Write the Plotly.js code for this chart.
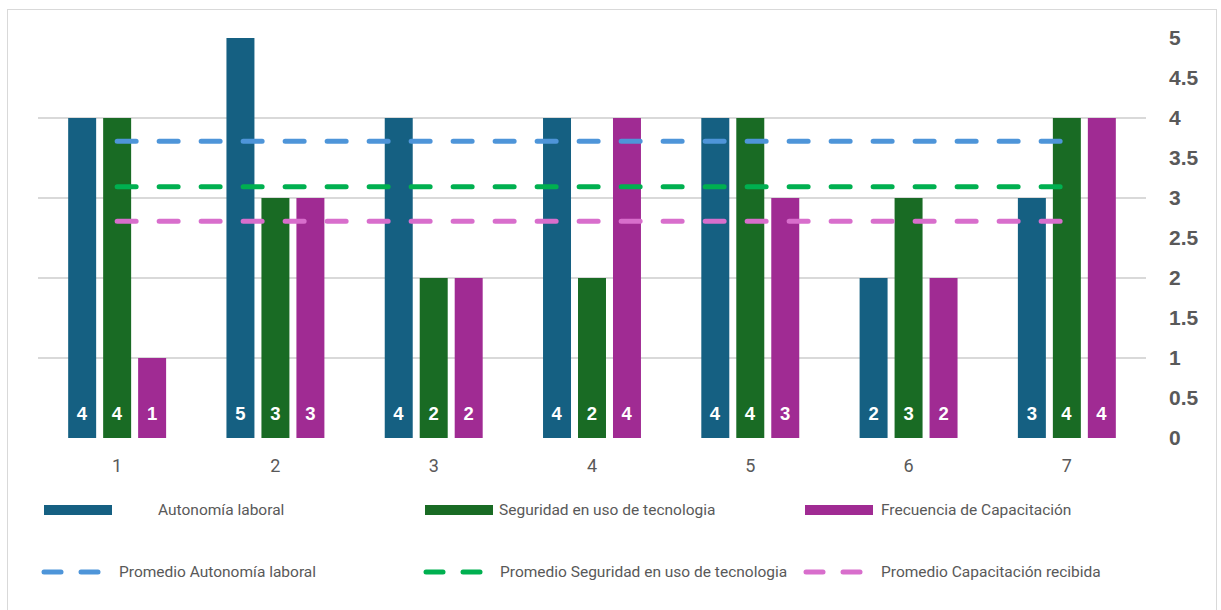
<!DOCTYPE html>
<html>
<head>
<meta charset="utf-8">
<script src="https://cdn.plot.ly/plotly-3.0.1.min.js"></script>
<style>
  html, body { margin: 0; padding: 0; background: #ffffff; }
  #wrap { position: relative; width: 1221px; height: 610px; overflow: hidden; }
  #chart { width: 1221px; height: 610px; }
  #frame { position: absolute; left: 7px; top: 9px; width: 1208px; height: 640px;
           border: 1.5px solid #d9d9d9; pointer-events: none; }
  .scatterlayer path.js-line, .shapelayer path { stroke-linecap: round; }
</style>
</head>
<body>
<div id="wrap">
  <div id="chart"></div>
  <div id="frame"></div>
</div>
<script>
// Categories (respondents 1..7)
const categorias = ['1', '2', '3', '4', '5', '6', '7'];

// Bar series
const autonomiaLaboral = [4, 5, 4, 4, 4, 2, 3];
const seguridadTecnologia = [4, 3, 2, 2, 4, 3, 4];
const frecuenciaCapacitacion = [1, 3, 2, 4, 3, 2, 4];

// Average lines
const promedioAutonomia = [3.71, 3.71, 3.71, 3.71, 3.71, 3.71, 3.71];
const promedioSeguridad = [3.14, 3.14, 3.14, 3.14, 3.14, 3.14, 3.14];
const promedioCapacitacion = [2.71, 2.71, 2.71, 2.71, 2.71, 2.71, 2.71];

// Y tick labels
const yTicks = [0, 0.5, 1, 1.5, 2, 2.5, 3, 3.5, 4, 4.5, 5];
const yTickText = ['0', '0.5', '1', '1.5', '2', '2.5', '3', '3.5', '4', '4.5', '5'];

const colores = {
  autonomia: '#156082',
  seguridad: '#196B24',
  capacitacion: '#A02B93',
  promAutonomia: '#4E95D9',
  promSeguridad: '#00B050',
  promCapacitacion: '#D86ECC'
};

const FONT = 'Roboto, "Liberation Sans", Arial, sans-serif';
const FONT_BOLD = '"Liberation Sans", Arial, sans-serif';
const GRIS = '#595959';

// Value label sits near the base of the bar; a small blank second line lifts it a little
const ETIQUETA = '<span style="font-size:18.5px">%{y}</span><br><span style="font-size:10px">\u00a0</span>';

function barra(nombre, valores, color) {
  return {
    type: 'bar', name: nombre, x: categorias, y: valores,
    marker: { color: color, line: { width: 0 } },
    texttemplate: ETIQUETA, textposition: 'inside', insidetextanchor: 'start',
    textangle: 0, constraintext: 'none',
    textfont: { color: '#ffffff', size: 10, weight: 'bold', family: FONT_BOLD },
    showlegend: false, hoverinfo: 'x+y+name'
  };
}

function promedio(nombre, valores, color) {
  return {
    type: 'scatter', mode: 'lines', name: nombre, x: categorias, y: valores,
    line: { color: color, width: 5, dash: '19px,23px' },
    showlegend: false, hoverinfo: 'y+name'
  };
}

const data = [
  barra('Autonomía laboral', autonomiaLaboral, colores.autonomia),
  barra('Seguridad en uso de tecnologia', seguridadTecnologia, colores.seguridad),
  barra('Frecuencia de Capacitación', frecuenciaCapacitacion, colores.capacitacion),
  promedio('Promedio Autonomía laboral', promedioAutonomia, colores.promAutonomia),
  promedio('Promedio Seguridad en uso de tecnologia', promedioSeguridad, colores.promSeguridad),
  promedio('Promedio Capacitación recibida', promedioCapacitacion, colores.promCapacitacion)
];

// Plot area geometry (pixels) used to place the custom legend
const W = 1221, H = 610;
const M = { l: 38, r: 75, t: 38, b: 172 };
const PW = W - M.l - M.r, PH = H - M.t - M.b;
const px = x => (x - M.l) / PW;
const py = y => (H - M.b - y) / PH;

const leyendaBarras = [
  { x0: 44, x1: 112, tx: 156, texto: 'Autonomía laboral', color: colores.autonomia },
  { x0: 425, x1: 493, tx: 497, texto: 'Seguridad en uso de tecnologia', color: colores.seguridad },
  { x0: 805, x1: 873, tx: 879, texto: 'Frecuencia de Capacitación', color: colores.capacitacion }
];
const leyendaLineas = [
  { x0: 44, tx: 117, texto: 'Promedio Autonomía laboral', color: colores.promAutonomia },
  { x0: 426, tx: 498, texto: 'Promedio Seguridad en uso de tecnologia', color: colores.promSeguridad },
  { x0: 806, tx: 879, texto: 'Promedio Capacitación recibida', color: colores.promCapacitacion }
];
const FILA1 = 510, FILA2 = 572;

const shapes = [];
const annotations = [];
leyendaBarras.forEach(it => {
  shapes.push({ type: 'rect', xref: 'paper', yref: 'paper',
    x0: px(it.x0), x1: px(it.x1), y0: py(FILA1 + 5), y1: py(FILA1 - 5),
    fillcolor: it.color, line: { width: 0 } });
  annotations.push({ xref: 'paper', yref: 'paper', x: px(it.tx), y: py(FILA1),
    xanchor: 'left', yanchor: 'middle', showarrow: false, text: it.texto,
    font: { family: FONT, size: 15.5, color: GRIS } });
});
leyendaLineas.forEach(it => {
  [0, 37].forEach(d => {
    shapes.push({ type: 'line', xref: 'paper', yref: 'paper',
      x0: px(it.x0 + d), x1: px(it.x0 + d + 17), y0: py(FILA2), y1: py(FILA2),
      line: { color: it.color, width: 5 } });
  });
  annotations.push({ xref: 'paper', yref: 'paper', x: px(it.tx), y: py(FILA2),
    xanchor: 'left', yanchor: 'middle', showarrow: false, text: it.texto,
    font: { family: FONT, size: 15.5, color: GRIS } });
});

const layout = {
  width: W, height: H,
  margin: M,
  paper_bgcolor: '#ffffff', plot_bgcolor: '#ffffff',
  barmode: 'group', bargap: 0.337, bargroupgap: 0.2,
  showlegend: false,
  font: { family: FONT, color: GRIS },
  xaxis: {
    type: 'category', showgrid: false, zeroline: false, showline: false,
    ticks: '', ticklabelstandoff: 15,
    tickfont: { family: FONT, size: 18, color: GRIS }
  },
  yaxis: {
    range: [0, 5], dtick: 1, showgrid: true, gridcolor: '#d9d9d9', gridwidth: 1.5,
    zeroline: false, showline: false, showticklabels: false, ticks: ''
  },
  yaxis2: {
    overlaying: 'y', side: 'right', range: [0, 5],
    tickmode: 'array', tickvals: yTicks, ticktext: yTickText,
    showgrid: false, zeroline: false, showline: false, ticks: '',
    ticklabelstandoff: 22,
    tickfont: { family: FONT_BOLD, size: 21, color: GRIS, weight: 'bold' }
  },
  shapes: shapes,
  annotations: annotations
};

// invisible trace that carries the right-hand label axis
data.push({ type: 'scatter', x: categorias, y: autonomiaLaboral, yaxis: 'y2',
  mode: 'markers', marker: { opacity: 0 }, hoverinfo: 'skip', showlegend: false });

Plotly.newPlot('chart', data, layout, { displayModeBar: false, staticPlot: true });
</script>
</body>
</html>
